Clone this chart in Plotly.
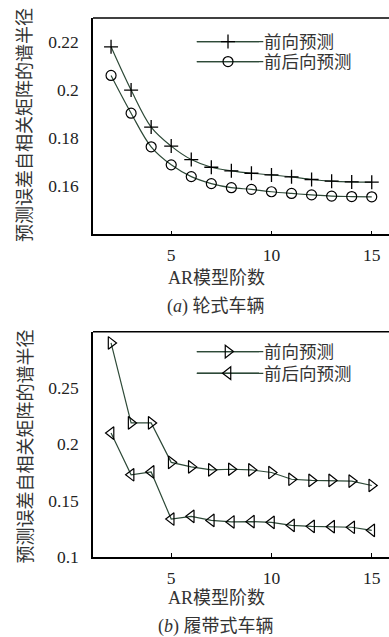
import plotly.graph_objects as go

# AR model order
orders = list(range(2, 16))

# (a) wheeled vehicle: spectral radius of prediction-error autocorrelation matrix
wheel_forward = [0.218, 0.200, 0.1846, 0.1767, 0.1711, 0.1679, 0.1664, 0.1654,
                 0.1647, 0.1639, 0.1628, 0.1621, 0.1618, 0.1617]
wheel_fwd_bwd = [0.2061, 0.1904, 0.1764, 0.1689, 0.1640, 0.1611, 0.1594, 0.1587,
                 0.1577, 0.1570, 0.1564, 0.1559, 0.1557, 0.1556]

# (b) tracked vehicle
track_forward = [0.290, 0.219, 0.219, 0.184, 0.180, 0.1773, 0.1779, 0.1773,
                 0.175, 0.169, 0.168, 0.168, 0.1674, 0.1635]
track_fwd_bwd = [0.210, 0.173, 0.1755, 0.1337, 0.1361, 0.1325, 0.1311, 0.1314,
                 0.1308, 0.1281, 0.1272, 0.1269, 0.1264, 0.1237]

x_ticks = [5, 10, 15]
y_ticks_a = [0.16, 0.18, 0.2, 0.22]
y_text_a = ["0.16", "0.18", "0.2", "0.22"]
y_ticks_b = [0.1, 0.15, 0.2, 0.25]
y_text_b = ["0.1", "0.15", "0.2", "0.25"]

name_fwd = "前向预测"
name_fb = "前后向预测"
y_title = "预测误差自相关矩阵的谱半径"
x_title = "AR模型阶数"
cap_a = "(<i>a</i>) 轮式车辆"
cap_b = "(<i>b</i>) 履带式车辆"

LINE = "#2e4a38"
SERIF = "Liberation Serif, Noto Sans CJK SC"
CJK = "Liberation Serif, Noto Sans CJK SC"

W, H = 389, 637
ML, MR, MT, MB = 93, 0, 18, 80
PW = W - ML - MR
PH = H - MT - MB


def px_x(p):
    return (p - ML) / PW


def px_y(p):
    return (H - MB - p) / PH


fig = go.Figure()

fig.add_trace(go.Scatter(
    x=orders, y=wheel_forward, name=name_fwd, mode="lines+markers",
    line=dict(color=LINE, width=1.2, shape="spline"),
    marker=dict(symbol="cross-thin-open", size=10, color="black",
                line=dict(color="black", width=1.3)),
    xaxis="x", yaxis="y", legend="legend"))
fig.add_trace(go.Scatter(
    x=orders, y=wheel_fwd_bwd, name=name_fb, mode="lines+markers",
    line=dict(color=LINE, width=1.2, shape="spline"),
    marker=dict(symbol="circle-open", size=10, color="black",
                line=dict(color="black", width=1.2)),
    xaxis="x", yaxis="y", legend="legend2"))
fig.add_trace(go.Scatter(
    x=orders, y=track_forward, name=name_fwd, mode="lines+markers",
    line=dict(color=LINE, width=1.2),
    marker=dict(symbol="triangle-right-open", size=11, color="black",
                line=dict(color="black", width=1.2)),
    xaxis="x2", yaxis="y2", legend="legend3"))
fig.add_trace(go.Scatter(
    x=orders, y=track_fwd_bwd, name=name_fb, mode="lines+markers",
    line=dict(color=LINE, width=1.2),
    marker=dict(symbol="triangle-left-open", size=11, color="black",
                line=dict(color="black", width=1.2)),
    xaxis="x2", yaxis="y2", legend="legend4"))

top_dom = [px_y(234.3), 1.0]
bot_dom = [0.0, px_y(331.7)]

xaxis_common = dict(
    range=[1.1, 15.86], tickvals=x_ticks, ticks="inside", ticklen=4,
    tickwidth=1, tickcolor="black", showline=True, linecolor="black",
    linewidth=1.5, showgrid=False, zeroline=False, ticklabelstandoff=4,
    tickfont=dict(family=SERIF, size=17.5, color="#222"))
yaxis_common = dict(
    ticks="", showline=True, linecolor="black", linewidth=1.5,
    showgrid=False, zeroline=False, ticklabelstandoff=9,
    tickfont=dict(family=SERIF, size=17.5, color="#222"))

legend_common = dict(
    xanchor="left", yanchor="middle", bgcolor="rgba(0,0,0,0)",
    borderwidth=0, font=dict(family=CJK, size=17.5, color="#333"),
    itemwidth=62, tracegroupgap=0)

lx = px_x(192)
leg_rows = [41.7, 61.7, 351.7, 373.3]

fig.update_layout(
    width=W, height=H, margin=dict(l=ML, r=MR, t=MT, b=MB),
    paper_bgcolor="white", plot_bgcolor="white",
    xaxis=dict(domain=[0, 1], anchor="y", **xaxis_common),
    yaxis=dict(domain=top_dom, anchor="x", range=[0.14, 0.23],
               tickvals=y_ticks_a, ticktext=y_text_a, **yaxis_common),
    xaxis2=dict(domain=[0, 1], anchor="y2", **xaxis_common),
    yaxis2=dict(domain=bot_dom, anchor="x2", range=[0.1, 0.3],
                tickvals=y_ticks_b, ticktext=y_text_b, **yaxis_common),
    legend=dict(x=lx, y=px_y(leg_rows[0]), **legend_common),
    legend2=dict(x=lx, y=px_y(leg_rows[1]), **legend_common),
    legend3=dict(x=lx, y=px_y(leg_rows[2]), **legend_common),
    legend4=dict(x=lx, y=px_y(leg_rows[3]), **legend_common),
    showlegend=True,
)

# top border of each panel
for xr, yr in (("x domain", "y domain"), ("x2 domain", "y2 domain")):
    fig.add_shape(type="line", xref=xr, yref=yr, x0=0, x1=1, y0=1, y1=1,
                  line=dict(color="black", width=1.5))

# long legend key lines running up to the legend text
for r in leg_rows:
    fig.add_shape(type="line", xref="paper", yref="paper",
                  x0=px_x(196.7), x1=px_x(263.3), y0=px_y(r), y1=px_y(r),
                  line=dict(color=LINE, width=1.2), layer="below")

ann_font = dict(family=CJK, size=18, color="#333")
for ytxt, yc in ((y_title, px_y(125)), (y_title, px_y(446.5))):
    fig.add_annotation(text=ytxt, xref="paper", yref="paper", x=px_x(25), y=yc,
                       textangle=-90, showarrow=False, xanchor="center",
                       yanchor="middle", font=ann_font)
for txt, xc, yc in ((x_title, 216.7, 277.7), (cap_a, 216, 306),
                    (x_title, 216.7, 597.7), (cap_b, 216, 626)):
    fig.add_annotation(text=txt, xref="paper", yref="paper", x=px_x(xc),
                       y=px_y(yc), showarrow=False, xanchor="center",
                       yanchor="middle", font=ann_font)

fig.write_html("out.html")
